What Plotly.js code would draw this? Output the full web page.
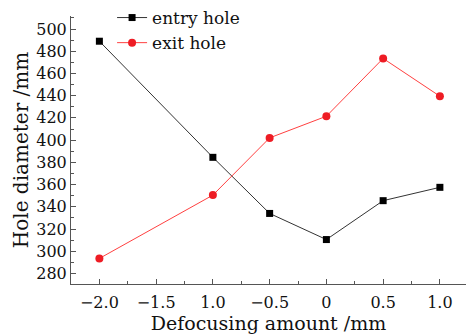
<!DOCTYPE html>
<html>
<head>
<meta charset="utf-8">
<script src="https://cdn.plot.ly/plotly-3.0.1.min.js"></script>
<style>
  html, body { margin: 0; padding: 0; background: #fff; }
  #chart { width: 466px; height: 334px; }
</style>
</head>
<body>
<div id="chart"></div>
<script>
// Defocusing amount (mm) at each measurement
const defocus = [-2.0, -1.0, -0.5, 0, 0.5, 1.0];

// Measured hole diameters
const entryHole = [489, 384.5, 334, 310.5, 345.5, 357.5];
const exitHole = [293.5, 350.5, 402, 421.5, 473.5, 439.5];

// Axis tick positions and their printed labels
const xTickVals = [-2.0, -1.5, -1.0, -0.5, 0, 0.5, 1.0];
const xTickText = ['\u22122.0', '\u22121.5', '1.0', '\u22120.5', '0', '0.5', '1.0'];
const yTickVals = [280, 300, 320, 340, 360, 380, 400, 420, 440, 460, 480, 500];

const serif = 'DejaVu Serif, serif';
const axisColor = '#555555';

const traces = [
  {
    x: defocus,
    y: entryHole,
    name: 'entry hole',
    mode: 'lines+markers',
    line: { color: '#333333', width: 1 },
    marker: { symbol: 'square', size: 7, color: '#000000' }
  },
  {
    x: defocus,
    y: exitHole,
    name: 'exit hole',
    mode: 'lines+markers',
    line: { color: '#ff4040', width: 1 },
    marker: { symbol: 'circle', size: 8, color: '#ee1c24' }
  }
];

const layout = {
  width: 466,
  height: 334,
  margin: { l: 71, r: 0, t: 11, b: 50 },
  paper_bgcolor: '#ffffff',
  plot_bgcolor: '#ffffff',
  font: { family: serif, size: 16, color: '#111111' },
  showlegend: true,
  legend: {
    x: 0.104, y: 1.06, xanchor: 'left', yanchor: 'top',
    bgcolor: 'rgba(0,0,0,0)',
    font: { family: serif, size: 17, color: '#111111' },
    tracegroupgap: 0
  },
  xaxis: {
    range: [-2.25, 1.23],
    tickmode: 'array',
    tickvals: xTickVals,
    ticktext: xTickText,
    ticks: 'inside',
    ticklen: 5,
    tickcolor: axisColor,
    showline: true,
    linecolor: axisColor,
    linewidth: 1,
    showgrid: false,
    zeroline: false,
    ticklabelstandoff: 4,
    tickfont: { family: serif, size: 16 },
    minor: { tickmode: 'linear', tick0: -2.25, dtick: 0.5, ticks: 'inside', ticklen: 3, tickcolor: axisColor, showgrid: false },
    title: { text: 'Defocusing amount /mm', font: { family: serif, size: 19 }, standoff: 0 }
  },
  yaxis: {
    range: [270.5, 511.7],
    tickmode: 'array',
    tickvals: yTickVals,
    ticks: 'inside',
    ticklen: 5,
    tickcolor: axisColor,
    showline: true,
    linecolor: axisColor,
    linewidth: 1,
    showgrid: false,
    zeroline: false,
    ticklabelstandoff: 0,
    tickfont: { family: serif, size: 16 },
    minor: { tickmode: 'linear', tick0: 270, dtick: 20, ticks: 'inside', ticklen: 3, tickcolor: axisColor, showgrid: false },
    title: { text: 'Hole diameter /mm', font: { family: serif, size: 20 }, standoff: 2 }
  }
};

Plotly.newPlot('chart', traces, layout, { displayModeBar: false, staticPlot: true });
</script>
</body>
</html>
